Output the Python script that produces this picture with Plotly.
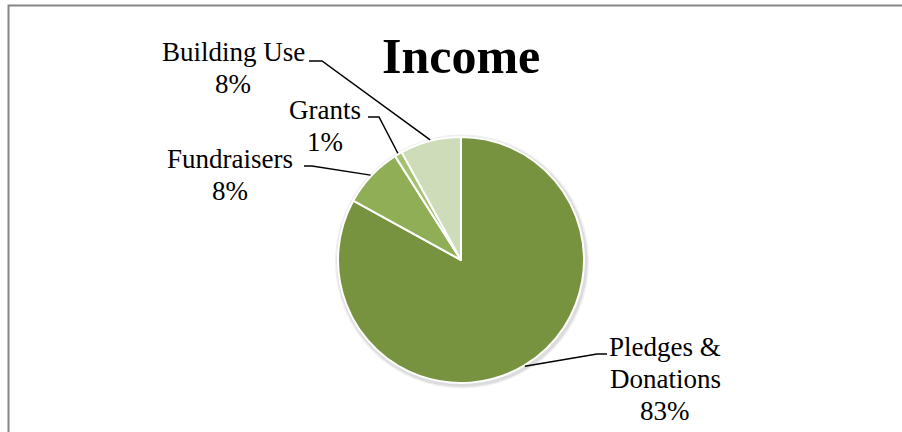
import math
import plotly.graph_objects as go

# ---- data ----
categories = ["Pledges & Donations", "Fundraisers", "Grants", "Building Use"]
values = [83, 8, 1, 8]
label_lines = [["Pledges &", "Donations", "83%"], ["Fundraisers", "8%"], ["Grants", "1%"], ["Building Use", "8%"]]
colors = ["#78933F", "#8FAE55", "#A6C270", "#CEDCB9"]

W, H = 902, 432
CX, CY, R = 461, 260, 123  # pie centre / radius in pixels

# label block: centre x, first line centre y (pixels); leader stubs (pixels)
label_pos = [(665, 346.5), (230, 159), (325, 109.5), (233, 52)]
LINE_GAP = 32
stubs = [((607, 354), (597, 354)), ((304, 166), (312, 166)), ((368, 117), (379, 117)), ((309, 61), (322, 61))]
anchor_override = {0: 149.0}  # degrees clockwise from 12 o'clock

def px(x):
    return x / W

def py(y):
    return 1 - y / H

fig = go.Figure(go.Pie(
    labels=categories, values=values, sort=False, direction="clockwise", rotation=0,
    marker=dict(colors=colors, line=dict(color="white", width=2)),
    textinfo="none", hoverinfo="label+percent", showlegend=False,
    domain=dict(x=[px(CX - R), px(CX + R)], y=[py(CY + R), py(CY - R)]),
))

shapes = []
# soft shadow behind the pie
for dr, col in [(4, "#f0f0f0"), (2.5, "#dcdcdc")]:
    sx, sy = CX + 1, CY + 1.5
    shapes.append(dict(type="circle", xref="paper", yref="paper", layer="below",
                       x0=px(sx - R - dr), x1=px(sx + R + dr), y0=py(sy + R + dr), y1=py(sy - R - dr),
                       fillcolor=col, line=dict(width=0)))

total = sum(values)
cum = 0
annotations = []
for i, v in enumerate(values):
    mid = (cum + v / 2) / total * 360
    cum += v
    ang = math.radians(anchor_override.get(i, mid))
    ex = CX + (R + 1) * math.sin(ang)
    ey = CY - (R + 1) * math.cos(ang)
    (x0, y0), (x1, y1) = stubs[i]
    path = f"M {px(x0)} {py(y0)} L {px(x1)} {py(y1)} L {px(ex)} {py(ey)}"
    shapes.append(dict(type="path", xref="paper", yref="paper", path=path,
                       line=dict(color="black", width=1.5)))
    lx, ly = label_pos[i]
    for j, line in enumerate(label_lines[i]):
        annotations.append(dict(x=px(lx), y=py(ly + j * LINE_GAP), xref="paper", yref="paper",
                                text=line, showarrow=False, xanchor="center", yanchor="middle",
                                font=dict(family="Liberation Serif", size=27, color="black")))

annotations.append(dict(x=px(461), y=py(56), xref="paper", yref="paper", text="<b>Income</b>",
                        showarrow=False, xanchor="center", yanchor="middle",
                        font=dict(family="Liberation Serif", size=50, color="black")))

# chart frame
shapes.append(dict(type="rect", xref="paper", yref="paper", x0=px(8.5), y0=py(440), x1=px(910), y1=py(5.5),
                   line=dict(color="#868686", width=2), fillcolor="rgba(0,0,0,0)"))

fig.update_layout(width=W, height=H, autosize=False, margin=dict(l=0, r=0, t=0, b=0),
                  paper_bgcolor="white", plot_bgcolor="white",
                  shapes=shapes, annotations=annotations)
fig.write_html("out.html", config={"displayModeBar": False},
               post_script="document.body.style.margin='0';document.body.style.overflow='hidden';")
